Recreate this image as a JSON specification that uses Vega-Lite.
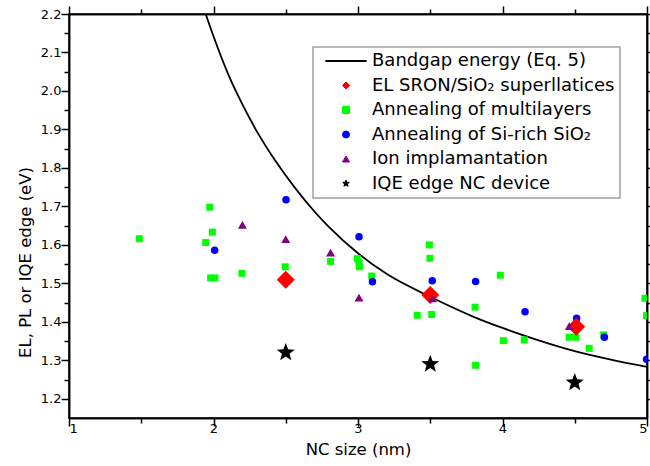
{
  "$schema": "https://vega.github.io/schema/vega-lite/v6.json",
  "width": 578,
  "height": 404,
  "autosize": {"type": "none"},
  "padding": {"left": 69, "top": 14, "right": 3, "bottom": 48},
  "background": "white",
  "config": {
    "view": {"stroke": "#000", "strokeWidth": 1.5},
    "font": "DejaVu Sans",
    "axis": {
      "domainColor": "#000", "domainWidth": 1.5, "tickColor": "#000", "tickWidth": 1.5,
      "grid": false, "labelColor": "#000", "titleColor": "#000",
      "labelFont": "DejaVu Sans", "titleFont": "DejaVu Sans",
      "labelFontSize": 13, "titleFontSize": 16.5, "titleFontWeight": "normal"
    }
  },
  "data": {"values": [
    {"series": "Bandgap energy (Eq. 5)", "x": 1.946, "y": 2.2},
    {"series": "Bandgap energy (Eq. 5)", "x": 2.0, "y": 2.142},
    {"series": "Bandgap energy (Eq. 5)", "x": 2.1, "y": 2.045},
    {"series": "Bandgap energy (Eq. 5)", "x": 2.2, "y": 1.965},
    {"series": "Bandgap energy (Eq. 5)", "x": 2.3, "y": 1.895},
    {"series": "Bandgap energy (Eq. 5)", "x": 2.42, "y": 1.823},
    {"series": "Bandgap energy (Eq. 5)", "x": 2.56, "y": 1.75},
    {"series": "Bandgap energy (Eq. 5)", "x": 2.7, "y": 1.686},
    {"series": "Bandgap energy (Eq. 5)", "x": 2.8, "y": 1.646},
    {"series": "Bandgap energy (Eq. 5)", "x": 3.0, "y": 1.578},
    {"series": "Bandgap energy (Eq. 5)", "x": 3.2, "y": 1.524},
    {"series": "Bandgap energy (Eq. 5)", "x": 3.5, "y": 1.465},
    {"series": "Bandgap energy (Eq. 5)", "x": 3.8, "y": 1.413},
    {"series": "Bandgap energy (Eq. 5)", "x": 4.0, "y": 1.384},
    {"series": "Bandgap energy (Eq. 5)", "x": 4.25, "y": 1.352},
    {"series": "Bandgap energy (Eq. 5)", "x": 4.5, "y": 1.324},
    {"series": "Bandgap energy (Eq. 5)", "x": 4.75, "y": 1.302},
    {"series": "Bandgap energy (Eq. 5)", "x": 5.0, "y": 1.283},

    {"series": "Annealing of multilayers", "x": 1.487, "y": 1.616},
    {"series": "Annealing of multilayers", "x": 1.946, "y": 1.606},
    {"series": "Annealing of multilayers", "x": 1.974, "y": 1.698},
    {"series": "Annealing of multilayers", "x": 1.992, "y": 1.633},
    {"series": "Annealing of multilayers", "x": 1.98, "y": 1.514},
    {"series": "Annealing of multilayers", "x": 2.01, "y": 1.514},
    {"series": "Annealing of multilayers", "x": 2.197, "y": 1.526},
    {"series": "Annealing of multilayers", "x": 2.497, "y": 1.543},
    {"series": "Annealing of multilayers", "x": 2.81, "y": 1.557},
    {"series": "Annealing of multilayers", "x": 2.995, "y": 1.564},
    {"series": "Annealing of multilayers", "x": 3.007, "y": 1.554},
    {"series": "Annealing of multilayers", "x": 3.01, "y": 1.543},
    {"series": "Annealing of multilayers", "x": 3.095, "y": 1.519},
    {"series": "Annealing of multilayers", "x": 3.494, "y": 1.6},
    {"series": "Annealing of multilayers", "x": 3.498, "y": 1.565},
    {"series": "Annealing of multilayers", "x": 3.41, "y": 1.417},
    {"series": "Annealing of multilayers", "x": 3.51, "y": 1.419},
    {"series": "Annealing of multilayers", "x": 3.81, "y": 1.438},
    {"series": "Annealing of multilayers", "x": 3.985, "y": 1.521},
    {"series": "Annealing of multilayers", "x": 4.006, "y": 1.351},
    {"series": "Annealing of multilayers", "x": 4.151, "y": 1.353},
    {"series": "Annealing of multilayers", "x": 3.814, "y": 1.287},
    {"series": "Annealing of multilayers", "x": 4.462, "y": 1.36},
    {"series": "Annealing of multilayers", "x": 4.508, "y": 1.36},
    {"series": "Annealing of multilayers", "x": 4.7, "y": 1.366},
    {"series": "Annealing of multilayers", "x": 4.6, "y": 1.331},
    {"series": "Annealing of multilayers", "x": 4.986, "y": 1.461},
    {"series": "Annealing of multilayers", "x": 4.997, "y": 1.416},

    {"series": "Annealing of Si-rich SiO₂", "x": 2.008, "y": 1.586},
    {"series": "Annealing of Si-rich SiO₂", "x": 2.502, "y": 1.717},
    {"series": "Annealing of Si-rich SiO₂", "x": 3.007, "y": 1.621},
    {"series": "Annealing of Si-rich SiO₂", "x": 3.1, "y": 1.504},
    {"series": "Annealing of Si-rich SiO₂", "x": 3.514, "y": 1.507},
    {"series": "Annealing of Si-rich SiO₂", "x": 3.814, "y": 1.505},
    {"series": "Annealing of Si-rich SiO₂", "x": 4.156, "y": 1.426},
    {"series": "Annealing of Si-rich SiO₂", "x": 4.513, "y": 1.409},
    {"series": "Annealing of Si-rich SiO₂", "x": 4.705, "y": 1.36},
    {"series": "Annealing of Si-rich SiO₂", "x": 4.997, "y": 1.303},

    {"series": "EL SRON/SiO₂ superllatices", "x": 2.5, "y": 1.509},
    {"series": "EL SRON/SiO₂ superllatices", "x": 3.5, "y": 1.47},
    {"series": "EL SRON/SiO₂ superllatices", "x": 4.51, "y": 1.387},

    {"series": "Ion implamantation", "x": 2.2, "y": 1.652},
    {"series": "Ion implamantation", "x": 2.5, "y": 1.615},
    {"series": "Ion implamantation", "x": 2.81, "y": 1.58},
    {"series": "Ion implamantation", "x": 3.007, "y": 1.463},
    {"series": "Ion implamantation", "x": 3.515, "y": 1.461},
    {"series": "Ion implamantation", "x": 4.462, "y": 1.389},

    {"series": "IQE edge NC device", "x": 2.5, "y": 1.32},
    {"series": "IQE edge NC device", "x": 3.5, "y": 1.29},
    {"series": "IQE edge NC device", "x": 4.5, "y": 1.242}
  ]},
  "resolve": {"axis": {"x": "independent", "y": "independent"}},
  "layer": [
    {
      "transform": [{"filter": "datum.series === 'Bandgap energy (Eq. 5)'"}],
      "mark": {"type": "line", "interpolate": "monotone", "strokeWidth": 1.8, "clip": true},
      "encoding": {
        "x": {"field": "x", "type": "quantitative", "scale": {"domain": [1, 5], "nice": false, "zero": false},
          "axis": {"orient": "bottom", "values": [1, 2, 3, 4, 5], "format": "d", "tickSize": 8, "labelPadding": -4, "title": "NC size (nm)", "titleBaseline": "middle", "titleY": 31,
            "encode": {"ticks": {"update": {"y2": {"value": -8}}}}}},
        "y": {"field": "y", "type": "quantitative", "scale": {"domain": [1.15, 2.2], "nice": false, "zero": false},
          "axis": {"orient": "left", "values": [1.2, 1.3, 1.4, 1.5, 1.6, 1.7, 1.8, 1.9, 2.0, 2.1, 2.2], "format": ".1f", "tickSize": 8, "labelPadding": 0, "title": "EL,  PL or IQE edge (eV)", "titleBaseline": "middle", "titleAlign": "center", "titleAngle": -90, "titleX": -44, "titleY": 248,
            "encode": {"ticks": {"update": {"x2": {"value": 8}}}}}},
        "color": {"field": "series", "type": "nominal",
          "scale": {"domain": ["Bandgap energy (Eq. 5)", "EL SRON/SiO₂ superllatices", "Annealing of multilayers", "Annealing of Si-rich SiO₂", "Ion implamantation", "IQE edge NC device"],
                    "range": ["#000000", "#ff0000", "#00ff00", "#0000ff", "#800080", "#000000"]},
          "legend": {"orient": "none", "legendX": 244, "legendY": 33, "title": null,
            "padding": 5, "rowPadding": 6.5,
            "labelFont": "DejaVu Sans", "labelFontSize": 18, "labelColor": "#000", "labelLimit": 500,
            "symbolSize": 49, "symbolOffset": 19, "labelOffset": 17, "strokeColor": "#a0a0a0", "fillColor": "white",
            "encode": {
              "legend": {"update": {"strokeWidth": {"value": 1.5}}},
              "symbols": {"update": {"stroke": {"scale": "color", "field": "value"}, "strokeWidth": {"signal": "datum.value === 'Bandgap energy (Eq. 5)' ? 2 : 1"}}}
            }}}
      }
    },
    {
      "transform": [{"filter": "datum.series === 'Annealing of multilayers'"}],
      "mark": {"type": "point", "filled": true, "opacity": 1, "size": 49, "clip": true},
      "encoding": {
        "x": {"field": "x", "type": "quantitative", "scale": {"domain": [1, 5], "nice": false, "zero": false},
          "axis": {"orient": "top", "values": [1, 2, 3, 4, 5], "labels": false, "tickSize": 8, "title": null,
            "encode": {"ticks": {"update": {"y2": {"value": 8}}}}}},
        "y": {"field": "y", "type": "quantitative", "scale": {"domain": [1.15, 2.2], "nice": false, "zero": false},
          "axis": {"orient": "right", "values": [1.2, 1.3, 1.4, 1.5, 1.6, 1.7, 1.8, 1.9, 2.0, 2.1, 2.2], "labels": false, "tickSize": 8, "title": null,
            "encode": {"ticks": {"update": {"x2": {"value": -8}}}}}},
        "color": {"field": "series", "type": "nominal"},
        "shape": {"field": "series", "type": "nominal",
          "scale": {"domain": ["Bandgap energy (Eq. 5)", "EL SRON/SiO₂ superllatices", "Annealing of multilayers", "Annealing of Si-rich SiO₂", "Ion implamantation", "IQE edge NC device"],
                    "range": ["M-5.9,0L5.9,0", "diamond", "square", "circle", "triangle-up", "M0,-1L0.25,-0.34L0.951,-0.309L0.4,0.13L0.588,0.809L0,0.42L-0.588,0.809L-0.4,0.13L-0.951,-0.309L-0.25,-0.34Z"]}}
      }
    },
    {
      "transform": [{"filter": "datum.series === 'Annealing of Si-rich SiO₂'"}],
      "mark": {"type": "point", "filled": true, "opacity": 1, "size": 56, "clip": true},
      "encoding": {
        "x": {"field": "x", "type": "quantitative", "scale": {"domain": [1, 5], "nice": false, "zero": false},
          "axis": {"orient": "bottom", "values": [1.5, 2.5, 3.5, 4.5], "labels": false, "tickSize": 5, "title": null,
            "encode": {"ticks": {"update": {"y2": {"value": -5}}}}}},
        "y": {"field": "y", "type": "quantitative", "scale": {"domain": [1.15, 2.2], "nice": false, "zero": false},
          "axis": {"orient": "left", "values": [1.25, 1.35, 1.45, 1.55, 1.65, 1.75, 1.85, 1.95, 2.05, 2.15], "labels": false, "tickSize": 5, "title": null,
            "encode": {"ticks": {"update": {"x2": {"value": 5}}}}}},
        "color": {"field": "series", "type": "nominal"},
        "shape": {"field": "series", "type": "nominal"}
      }
    },
    {
      "transform": [{"filter": "datum.series === 'EL SRON/SiO₂ superllatices'"}],
      "mark": {"type": "point", "filled": true, "opacity": 1, "size": 324, "clip": true},
      "encoding": {
        "x": {"field": "x", "type": "quantitative", "axis": null},
        "y": {"field": "y", "type": "quantitative", "axis": null},
        "color": {"field": "series", "type": "nominal"},
        "shape": {"field": "series", "type": "nominal"}
      }
    },
    {
      "transform": [{"filter": "datum.series === 'Ion implamantation'"}],
      "mark": {"type": "point", "filled": true, "opacity": 1, "size": 80, "clip": true},
      "encoding": {
        "x": {"field": "x", "type": "quantitative", "scale": {"domain": [1, 5], "nice": false, "zero": false},
          "axis": {"orient": "top", "values": [1.5, 2.5, 3.5, 4.5], "labels": false, "tickSize": 5, "title": null,
            "encode": {"ticks": {"update": {"y2": {"value": 5}}}}}},
        "y": {"field": "y", "type": "quantitative", "scale": {"domain": [1.15, 2.2], "nice": false, "zero": false},
          "axis": {"orient": "right", "values": [1.25, 1.35, 1.45, 1.55, 1.65, 1.75, 1.85, 1.95, 2.05, 2.15], "labels": false, "tickSize": 5, "title": null,
            "encode": {"ticks": {"update": {"x2": {"value": -5}}}}}},
        "color": {"field": "series", "type": "nominal"},
        "shape": {"field": "series", "type": "nominal"}
      }
    },
    {
      "transform": [{"filter": "datum.series === 'IQE edge NC device'"}],
      "mark": {"type": "point", "filled": true, "opacity": 1, "size": 361, "clip": true},
      "encoding": {
        "x": {"field": "x", "type": "quantitative", "axis": null},
        "y": {"field": "y", "type": "quantitative", "axis": null},
        "color": {"field": "series", "type": "nominal"},
        "shape": {"field": "series", "type": "nominal"}
      }
    }
  ]
}
